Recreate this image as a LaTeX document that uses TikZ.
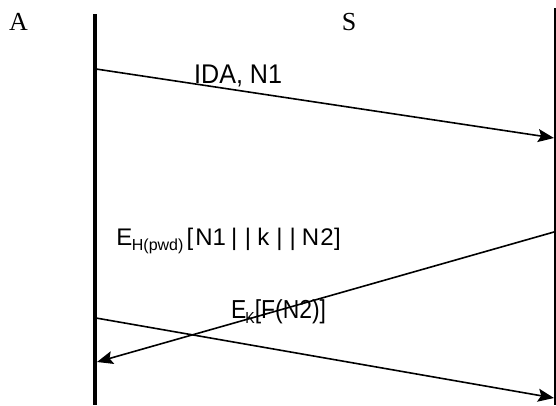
\documentclass[tikz,border=0pt]{standalone}
\usepackage{fontspec}
\setmainfont{Liberation Serif}
\newfontfamily\lblfont[FakeStretch=0.93]{Liberation Sans}
\newfontfamily\lblfontn[FakeStretch=0.88]{Liberation Sans}
\newfontfamily\lblfontw{Liberation Sans}
\usetikzlibrary{arrows.meta}
\tikzset{
  lifeline/.style={line width=4pt},
  msg/.style={line width=1.6pt,-{Stealth[length=16pt,width=13pt,inset=3pt]}},
  actor/.style={font=\fontsize{26}{26}\selectfont,inner sep=0pt,anchor=base},
  narrowlbl/.style={font=\lblfontn\fontsize{26}{26}\selectfont,inner sep=0pt,anchor=base west},
  widelbl/.style={font=\lblfontw\fontsize{24}{24}\selectfont,inner sep=0pt,anchor=base west},
  biglbl/.style={font=\lblfont\fontsize{27}{27}\selectfont,inner sep=0pt,anchor=base west},
}
\newcommand{\sbs}[1]{\raisebox{-5pt}{\fontsize{16}{16}\selectfont #1}}
\newcommand{\hs}[1]{\hspace*{#1pt}}
\begin{document}
\begin{tikzpicture}[x=1pt,y=-1pt]
\useasboundingbox (0,0) rectangle (556,405);
% actors
\node[actor] (A) at (18.5,30) {A};
\node[actor] (S) at (349,30) {S};
% lifelines
\coordinate (Atop) at (95,14);
\coordinate (Abot) at (95,405);
\coordinate (Stop) at (555,8);
\coordinate (Sbot) at (555,405);
\draw[lifeline] (Atop) -- (Abot);
\draw[line width=3pt] (Stop) -- (Sbot);
% message points
\coordinate (a1) at (96,69);
\coordinate (s1) at (554,138);
\coordinate (s2) at (554,232);
\coordinate (a2) at (97,362);
\coordinate (a3) at (96,318);
\coordinate (s3) at (554,398);
\draw[msg] (a1) -- (s1);
\draw[msg] (s2) -- (a2);
\draw[msg] (a3) -- (s3);
% labels
\node[biglbl] (m1) at (194,83) {IDA, N1};
\node[widelbl] (m2) at (116.2,245) {E\hs{-0.5}\sbs{H(pwd)}\hs{3.2}[\hs{2}N1\hs{5}|\hs{7.5}|\hs{6.5}k\hs{7}|\hs{7}|\hs{6}N\hs{1}2\hs{0.5}]};
\node[narrowlbl] (m3) at (231,318) {E\hs{-1}\sbs{K}[F(N2)]};
\end{tikzpicture}
\end{document}
